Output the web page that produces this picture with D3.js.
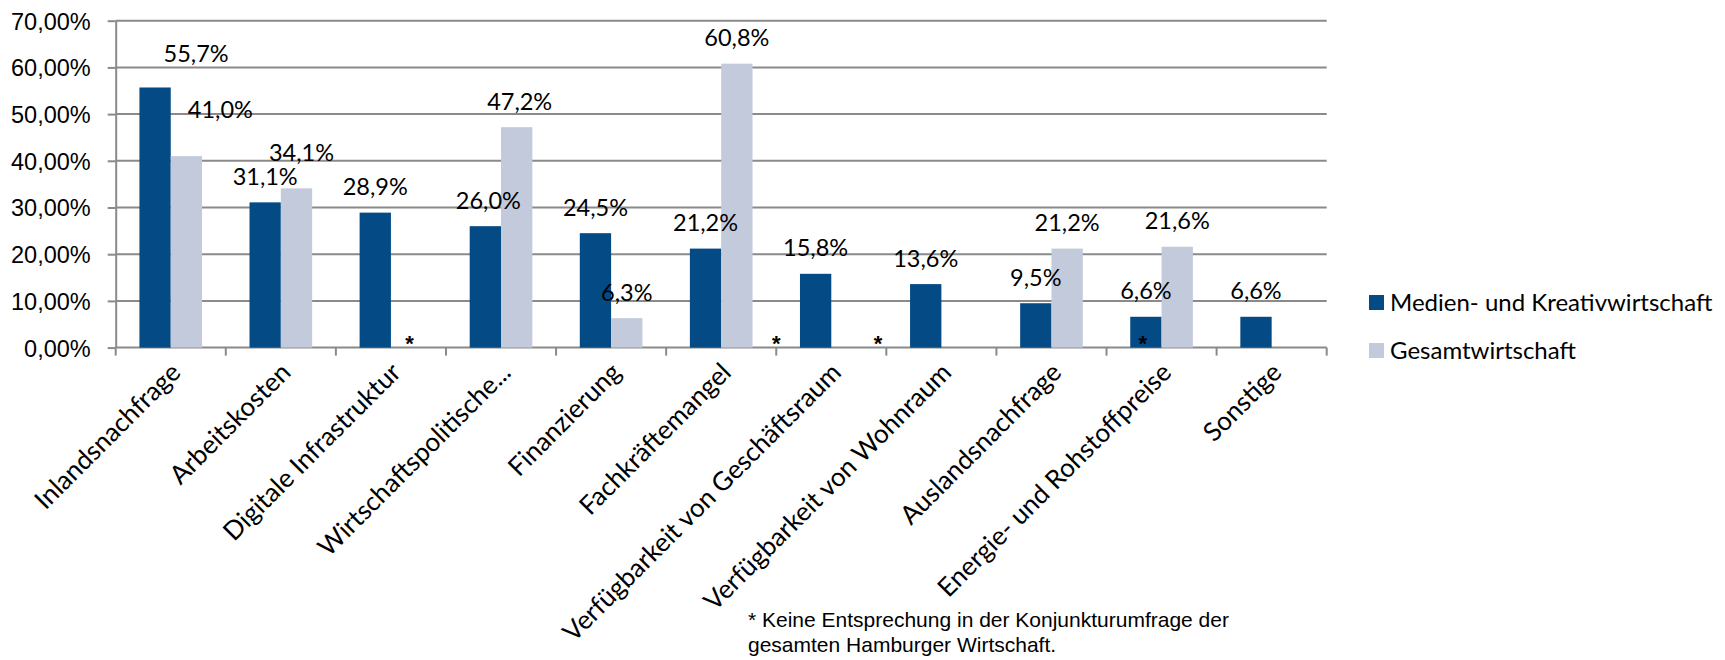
<!DOCTYPE html>
<html lang="de">
<head>
    <meta charset="UTF-8">
    <title>Hemmnisse Medien- und Kreativwirtschaft</title>
    <script src="https://d3js.org/d3.v7.min.js"></script>
    <style>
        body { margin: 0; background: #fff; }
        svg { display: block; font-family: Lato, "Open Sans", sans-serif; }
        .grid line { stroke: #8a8a8a; stroke-width: 2px; }
        .axis path, .axis line { stroke: #8a8a8a; stroke-width: 2px; }
        .axis text { fill: #000; font-size: 23.5px; }
        .label { font-size: 23.5px; fill: #000; }
        .legend text { font-size: 24px; fill: #000; }
        .star { font-family: "Liberation Sans", Arial, sans-serif; font-weight: bold; font-size: 22px; }
        .note { font-family: "Liberation Sans", Arial, sans-serif; font-size: 21px; fill: #000; }
    </style>
</head>
<body>
<svg id="chart" width="1725" height="660"></svg>
<script>
    // Daten
    const categories = [
        "Inlandsnachfrage", "Arbeitskosten", "Digitale Infrastruktur", "Wirtschaftspolitische...",
        "Finanzierung", "Fachkräftemangel", "Verfügbarkeit von Geschäftsraum",
        "Verfügbarkeit von Wohnraum", "Auslandsnachfrage", "Energie- und Rohstoffpreise", "Sonstige"
    ];
    const seriesNames = ["Medien- und Kreativwirtschaft", "Gesamtwirtschaft"];
    const kreativ = [0.557, 0.311, 0.289, 0.260, 0.245, 0.212, 0.158, 0.136, 0.095, 0.066, 0.066];
    const gesamt  = [0.410, 0.341, null, 0.472, 0.063, 0.608, null, null, 0.212, 0.216, null];
    const yTicks = [0, 0.1, 0.2, 0.3, 0.4, 0.5, 0.6, 0.7];
    // Kategorien ohne Entsprechung in der Gesamtwirtschaft (*)
    const starCats = ["Digitale Infrastruktur", "Verfügbarkeit von Geschäftsraum",
                      "Verfügbarkeit von Wohnraum", "Energie- und Rohstoffpreise"];
    const noteLines = ["* Keine Entsprechung in der Konjunkturumfrage der",
                       "gesamten Hamburger Wirtschaft."];

    const colors = { "Medien- und Kreativwirtschaft": "#044b86", "Gesamtwirtschaft": "#c2cadc" };

    // Layout
    const plot = { left: 115.7, right: 1326.7, top: 20.7, bottom: 347.6 };

    // Lage der Sternchen innerhalb der Kategorie (Anteil der Bandbreite)
    const starPos = { "Digitale Infrastruktur": 0.67, "Verfügbarkeit von Geschäftsraum": 0,
                      "Verfügbarkeit von Wohnraum": -0.075, "Energie- und Rohstoffpreise": 0.33 };
    // manuell verschobene Beschriftungen (wie im Original)
    const labelNudge = {
        "Inlandsnachfrage|0": [41, -8], "Inlandsnachfrage|1": [34, -21],
        "Arbeitskosten|1": [5, -10], "Wirtschaftspolitische...|0": [3, 0],
        "Wirtschaftspolitische...|1": [3, 0]
    };

    const loc = d3.formatLocale({ decimal: ",", thousands: ".", grouping: [3], currency: ["", " €"] });
    const fmtAxis = loc.format(".2%");
    const fmtLabel = loc.format(".1%");

    const svg = d3.select("#chart");

    const x = d3.scaleBand().domain(categories).range([plot.left, plot.right]).padding(0);
    const bw = x.bandwidth();
    const xs = d3.scaleBand().domain([0, 1]).range([bw * 0.2155, bw * 0.7845]).padding(0);
    const y = d3.scaleLinear().domain([0, 0.7]).range([plot.bottom, plot.top]);

    // Gitterlinien
    svg.append("g").attr("class", "grid")
        .selectAll("line").data(yTicks.slice(1)).join("line")
        .attr("x1", plot.left).attr("x2", plot.right)
        .attr("y1", d => y(d)).attr("y2", d => y(d));

    // y-Achse
    const yAxis = svg.append("g").attr("class", "axis")
        .attr("transform", `translate(${plot.left},0)`)
        .call(d3.axisLeft(y).tickValues(yTicks).tickFormat(fmtAxis).tickSize(8).tickSizeOuter(0).tickPadding(17));
    yAxis.selectAll("text").attr("dy", "0.36em");

    // x-Achse: Striche an den Bandgrenzen
    const xAxis = svg.append("g").attr("class", "axis")
        .attr("transform", `translate(0,${plot.bottom})`);
    xAxis.append("line").attr("x1", plot.left).attr("x2", plot.right);
    const bounds = categories.map(c => x(c)).concat([plot.right]);
    xAxis.selectAll("line.tick").data(bounds).join("line").attr("class", "tick")
        .attr("x1", d => d).attr("x2", d => d).attr("y1", 0).attr("y2", 8);
    xAxis.selectAll("text").data(categories).join("text")
        .attr("text-anchor", "end")
        .style("font-size", "26px")
        .attr("transform", d => `translate(${x(d) + bw / 2 + 5},${20}) rotate(-45)`)
        .attr("dy", "0.35em")
        .text(d => d);

    // Balken
    const rows = [];
    categories.forEach((c, i) => {
        [kreativ[i], gesamt[i]].forEach((v, s) => {
            if (v !== null) rows.push({ cat: c, s: s, v: v });
        });
    });

    svg.append("g").selectAll("rect").data(rows).join("rect")
        .attr("x", d => x(d.cat) + xs(d.s))
        .attr("width", xs.bandwidth())
        .attr("y", d => y(d.v))
        .attr("height", d => y(0) - y(d.v))
        .attr("fill", d => colors[seriesNames[d.s]]);

    // Werte
    svg.append("g").selectAll("text").data(rows).join("text")
        .attr("class", "label")
        .attr("text-anchor", "middle")
        .attr("x", d => x(d.cat) + xs(d.s) + xs.bandwidth() / 2 + (labelNudge[d.cat + "|" + d.s] || [0, 0])[0])
        .attr("y", d => y(d.v) - 26 + (labelNudge[d.cat + "|" + d.s] || [0, 0])[1])
        .attr("dy", "0.36em")
        .text(d => fmtLabel(d.v));

    // Sternchen
    svg.append("g").selectAll("text").data(starCats).join("text")
        .attr("class", "star")
        .attr("text-anchor", "middle")
        .attr("x", d => x(d) + bw * starPos[d])
        .attr("y", y(0) + 3)
        .text("*");

    // Legende
    const legend = svg.append("g").attr("class", "legend")
        .attr("transform", "translate(1369,295)");
    const li = legend.selectAll("g").data(seriesNames).join("g")
        .attr("transform", (d, i) => `translate(0,${i * 48})`);
    li.append("rect").attr("width", 15).attr("height", 15).attr("fill", d => colors[d]);
    li.append("text").attr("x", 21).attr("y", 7.5).attr("dy", "0.36em").text(d => d);

    // Fußnote
    svg.append("g").selectAll("text").data(noteLines).join("text")
        .attr("class", "note")
        .attr("x", 748)
        .attr("y", (d, i) => 620 + i * 25)
        .attr("dy", "0.35em")
        .text(d => d);
</script>
</body>
</html>
